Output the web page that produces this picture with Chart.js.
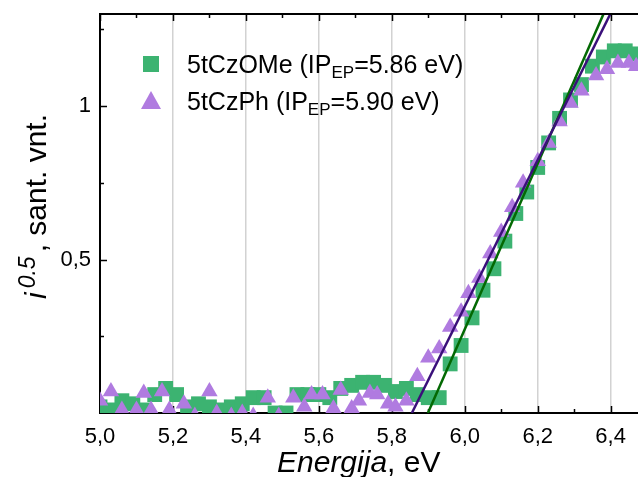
<!DOCTYPE html>
<html>
<head>
<meta charset="utf-8">
<script src="https://cdn.jsdelivr.net/npm/chart.js@4"></script>
<style>
html, body { margin: 0; padding: 0; background: #fff; }
canvas { display: block; }
</style>
</head>
<body>
<canvas id="chart" width="638" height="477"></canvas>
<script>
// 5tCzOMe, green squares
const omeX = [5.00, 5.03, 5.06, 5.09, 5.12, 5.15, 5.18, 5.21, 5.24, 5.27,
    5.30, 5.33, 5.36, 5.39, 5.42, 5.45, 5.48, 5.51, 5.54, 5.57,
    5.60, 5.63, 5.66, 5.69, 5.72, 5.75, 5.78, 5.81, 5.84, 5.87,
    5.90, 5.93, 5.96, 5.99, 6.02, 6.05, 6.08, 6.11, 6.14, 6.17,
    6.20, 6.23, 6.26, 6.29, 6.32, 6.35, 6.38, 6.41, 6.44, 6.47]
const omeY = [0.02, 0.01, 0.04, 0.03, 0.01, 0.06, 0.08, 0.06, 0.02, 0.03,
    0.02, 0.01, 0.02, 0.03, 0.05, 0.05, 0.00, 0.00, 0.06, 0.06,
    0.06, 0.05, 0.08, 0.09, 0.10, 0.10, 0.09, 0.07, 0.08, 0.06,
    0.05, 0.05, 0.16, 0.22, 0.31, 0.40, 0.47, 0.56, 0.65, 0.72,
    0.80, 0.88, 0.96, 1.02, 1.07, 1.13, 1.16, 1.18, 1.18, 1.17]

// 5tCzPh, purple triangles
const phX = [5.00, 5.03, 5.06, 5.10, 5.12, 5.14, 5.17, 5.19, 5.23, 5.26,
    5.30, 5.32, 5.36, 5.39, 5.42, 5.46, 5.49, 5.53, 5.56, 5.58,
    5.61, 5.64, 5.66, 5.69, 5.71, 5.74, 5.76, 5.79, 5.81, 5.84,
    5.87, 5.90, 5.93, 5.96, 5.99, 6.01, 6.04, 6.07, 6.10, 6.13,
    6.16, 6.20, 6.23, 6.26, 6.29, 6.32, 6.36, 6.39, 6.42, 6.45, 6.47]
const phY = [0.04, 0.07, 0.01, 0.01, 0.065, 0.01, 0.07, 0.01, 0.03, -0.01,
    0.07, 0.00, -0.01, 0.00, -0.01, 0.05, -0.01, 0.05, 0.02, 0.06,
    0.06, 0.015, 0.075, 0.015, 0.04, 0.065, 0.06, 0.03, 0.02, 0.04,
    0.12, 0.18, 0.21, 0.28, 0.33, 0.39, 0.44, 0.52, 0.59, 0.67,
    0.75, 0.82, 0.88, 0.95, 1.01, 1.05, 1.10, 1.12, 1.14, 1.14, 1.13]

// linear fits (end points)
const fitPhX = [5.855, 6.42]
const fitPhY = [0, 1.35]
const fitOmeX = [5.899, 6.399]
const fitOmeY = [0, 1.35]

const xTicks = [5.0, 5.2, 5.4, 5.6, 5.8, 6.0, 6.2, 6.4]
const xMinor = [5.1, 5.3, 5.5, 5.7, 5.9, 6.1, 6.3]
const yTicks = [0.5, 1]
const yTickLabels = ['0,5', '1']
const yMinor = [0.25, 0.75, 1.25]

const legendNames = ['5tCzOMe (IP', '5tCzPh (IP']
const legendTails = ['=5.86 eV)', '=5.90 eV)']

const FONT = "'Liberation Sans', Arial, sans-serif"
const GREEN = '#3cb371'
const PURPLE = '#b07be0'

const toPts = (xs, ys) => xs.map((x, i) => ({x: x, y: ys[i]}))

const framePlugin = {
    id: 'frame',
    beforeDatasetsDraw(chart) {
        let ctx = chart.ctx
        let a = chart.chartArea
        let xs = chart.scales.x
        let ys = chart.scales.y
        ctx.save()
        ctx.strokeStyle = '#000'
        ctx.lineWidth = 1.5
        ctx.beginPath()
        let tickX = (v, len) => {
            let px = Math.round(xs.getPixelForValue(v)) + 0.5
            ctx.moveTo(px, a.bottom)
            ctx.lineTo(px, a.bottom - len)
            ctx.moveTo(px, a.top)
            ctx.lineTo(px, a.top + len)
        }
        xTicks.forEach((v) => tickX(v, 7))
        xMinor.forEach((v) => tickX(v, 4))
        let tickY = (v, len) => {
            let py = Math.round(ys.getPixelForValue(v)) + 0.5
            ctx.moveTo(a.left, py)
            ctx.lineTo(a.left + len, py)
        }
        yTicks.forEach((v) => tickY(v, 7))
        yMinor.forEach((v) => tickY(v, 4))
        ctx.stroke()
        ctx.restore()
    },
    afterDraw(chart) {
        let ctx = chart.ctx
        let a = chart.chartArea
        ctx.save()

        // top frame line
        ctx.strokeStyle = '#000'
        ctx.lineWidth = 2
        ctx.beginPath()
        ctx.moveTo(a.left - 1, a.top)
        ctx.lineTo(a.right, a.top)
        ctx.stroke()

        // legend
        ctx.fillStyle = GREEN
        ctx.fillRect(143, 56, 16, 16)
        ctx.fillStyle = PURPLE
        ctx.beginPath()
        ctx.moveTo(151, 91)
        ctx.lineTo(161, 109)
        ctx.lineTo(141, 109)
        ctx.closePath()
        ctx.fill()

        ctx.fillStyle = '#000'
        ctx.textBaseline = 'alphabetic'
        ctx.textAlign = 'left'
        let baselines = [73, 110]
        legendNames.forEach((name, i) => {
            let x = 187
            ctx.font = '25px ' + FONT
            ctx.fillText(name, x, baselines[i])
            x += ctx.measureText(name).width
            ctx.font = '17px ' + FONT
            ctx.fillText('EP', x, baselines[i] + 5)
            x += ctx.measureText('EP').width
            ctx.font = '25px ' + FONT
            ctx.fillText(legendTails[i], x, baselines[i])
        })

        // x title
        let tx = 277
        ctx.font = 'italic 30px ' + FONT
        ctx.fillText('Energija', tx, 472)
        tx += ctx.measureText('Energija').width
        ctx.font = '30px ' + FONT
        ctx.fillText(', eV', tx, 472)

        // y title, rotated
        ctx.translate(46, 299)
        ctx.rotate(-Math.PI / 2)
        let ty = 0
        ctx.font = 'italic 30px ' + FONT
        ctx.fillText('i', ty, 0)
        ty += ctx.measureText('i').width + 4
        ctx.font = 'italic 23px ' + FONT
        ctx.fillText('0.5', ty, -11)
        ty += ctx.measureText('0.5').width + 4
        ctx.font = '30px ' + FONT
        ctx.fillText(', sant. vnt.', ty, 0)

        ctx.restore()
    }
}

const ctx = document.getElementById('chart').getContext('2d')
const chart = new Chart(ctx, {
    type: 'scatter',
    data: {
        datasets: [
            {
                label: 'fit 5tCzPh',
                data: toPts(fitPhX, fitPhY),
                showLine: true,
                borderColor: '#3a0f7a',
                borderWidth: 2.5,
                pointRadius: 0,
                clip: 0,
                order: 0
            },
            {
                label: 'fit 5tCzOMe',
                data: toPts(fitOmeX, fitOmeY),
                showLine: true,
                borderColor: '#036903',
                borderWidth: 2.5,
                pointRadius: 0,
                clip: 0,
                order: 1
            },
            {
                label: '5tCzPh',
                data: toPts(phX, phY),
                pointStyle: 'triangle',
                pointRadius: 9.5,
                pointBackgroundColor: PURPLE,
                pointBorderWidth: 0,
                clip: 0,
                order: 2
            },
            {
                label: '5tCzOMe',
                data: toPts(omeX, omeY),
                pointStyle: 'rect',
                pointRadius: 10.5,
                pointBackgroundColor: GREEN,
                pointBorderWidth: 0,
                clip: 0,
                order: 3
            }
        ]
    },
    options: {
        responsive: false,
        animation: false,
        events: [],
        layout: {autoPadding: false, padding: {top: 14, right: 0, left: 0, bottom: 0}},
        plugins: {legend: {display: false}, tooltip: {enabled: false}},
        scales: {
            x: {
                type: 'linear',
                min: 5.0,
                max: 6.475,
                afterBuildTicks: (s) => { s.ticks = xTicks.map((v) => ({value: v})) },
                afterFit: (s) => {
                    s.height = 64
                    s.paddingLeft = 0
                    s.paddingRight = 0
                },
                ticks: {
                    font: {family: FONT, size: 22},
                    color: '#000',
                    padding: 11,
                    maxRotation: 0,
                    autoSkip: false,
                    callback: (v) => v.toFixed(1).replace('.', ',')
                },
                grid: {
                    color: (c) => (c.tick && c.tick.value === 5.0) ? 'rgba(0,0,0,0)' : '#d2d2d2',
                    lineWidth: 1.5,
                    drawTicks: false
                },
                border: {color: '#000', width: 2}
            },
            y: {
                type: 'linear',
                min: 0,
                max: 1.3,
                afterBuildTicks: (s) => { s.ticks = yTicks.map((v) => ({value: v})) },
                afterFit: (s) => {
                    s.width = 100
                    s.paddingTop = 0
                    s.paddingBottom = 0
                },
                ticks: {
                    font: {family: FONT, size: 22},
                    color: '#000',
                    padding: 9,
                    callback: (v) => yTickLabels[yTicks.indexOf(v)]
                },
                grid: {display: false, drawTicks: false},
                border: {color: '#000', width: 2}
            }
        }
    },
    plugins: [framePlugin]
})
</script>
</body>
</html>
